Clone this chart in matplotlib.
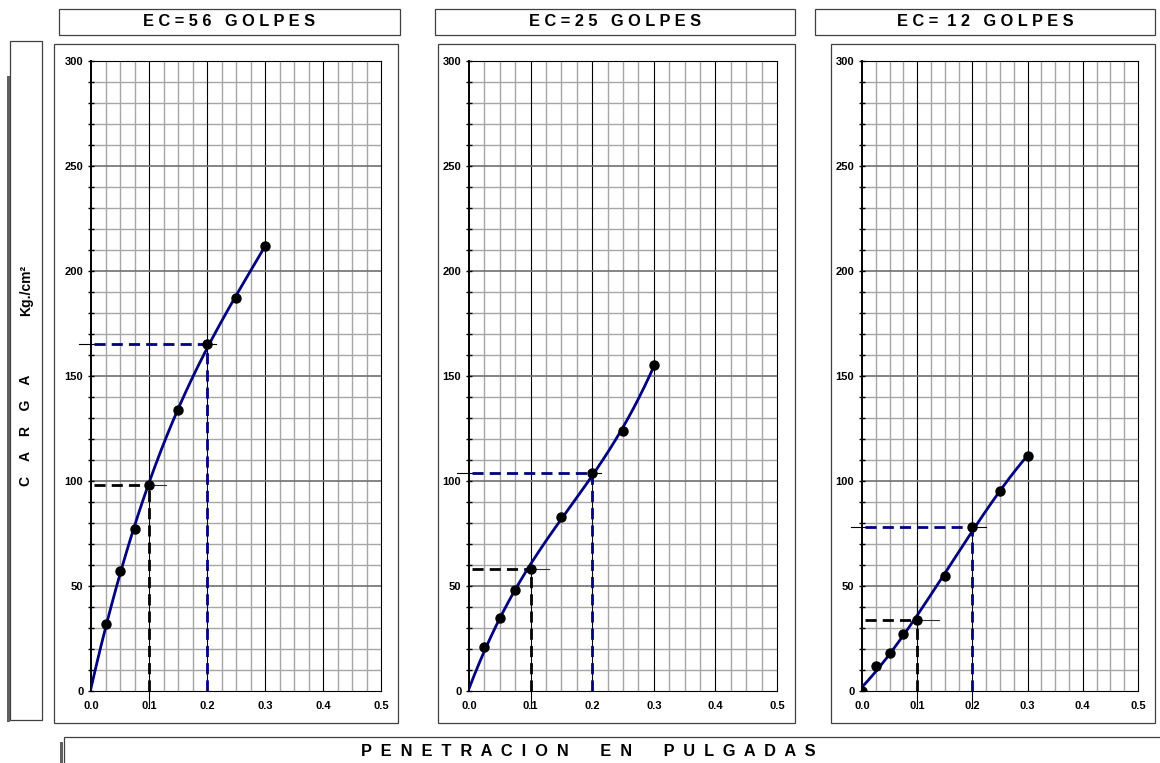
import numpy as np
import matplotlib.pyplot as plt
from matplotlib.patches import Rectangle

plt.rcParams['font.family'] = ['Liberation Sans', 'DejaVu Sans']

# datos de penetracion (pulgadas) y carga (kg/cm2)
pen = [0.0, 0.025, 0.05, 0.075, 0.1, 0.15, 0.2, 0.25, 0.3]
carga_56 = [0, 32, 57, 77, 98, 134, 165, 187, 212]
carga_25 = [0, 21, 35, 48, 58, 83, 104, 124, 155]
carga_12 = [0, 12, 18, 27, 34, 55, 78, 95, 112]
titulos = ['E C = 5 6   G O L P E S', 'E C = 2 5   G O L P E S', 'E C =  1 2   G O L P E S']
series = [carga_56, carga_25, carga_12]
marca_origen = [False, False, True]

W, H = 1160, 763
fig = plt.figure(figsize=(W / 100, H / 100), dpi=100)


def caja(x0, y0, x1, y1, lw=0.9, color='#404040'):
    r = Rectangle((x0 / W, 1 - y1 / H), (x1 - x0) / W, (y1 - y0) / H,
                  transform=fig.transFigure, fill=False, lw=lw, ec=color)
    fig.patches.append(r)


def eje(x0, y0, x1, y1):
    return fig.add_axes([x0 / W, 1 - y1 / H, (x1 - x0) / W, (y1 - y0) / H])


ejes_px = [(91, 381), (469, 777), (862, 1138)]
marcos = [(54, 398), (438, 795), (831, 1155)]
cajas_tit = [(59, 400), (435, 795), (815, 1155)]
navy = '#000080'
guion = (0, (4, 2.2))

for i in range(3):
    f0, f1 = marcos[i]
    caja(f0, 44, f1, 723)
    t0, t1 = cajas_tit[i]
    caja(t0, 9, t1, 35)
    fig.text((t0 + t1) / 2 / W, 1 - 22 / H, titulos[i], ha='center', va='center',
             fontsize=11.8, fontweight='bold')

    a0, a1 = ejes_px[i]
    ax = eje(a0, 61, a1, 691)
    ax.set_xlim(0, 0.5)
    ax.set_ylim(0, 300)

    # cuadricula
    for xv in np.arange(0.025, 0.5, 0.025):
        if abs(xv / 0.1 - round(xv / 0.1)) > 1e-6:
            ax.axvline(xv, color='#a6a6a6', lw=1.0, zorder=0)
    for xv in [0.1, 0.2, 0.3, 0.4]:
        ax.axvline(xv, color='black', lw=0.8, zorder=0.5)
    for yv in range(10, 300, 10):
        if yv % 50:
            ax.axhline(yv, color='#a6a6a6', lw=1.0, zorder=0)
    for yv in [50, 100, 150, 200, 250]:
        ax.axhline(yv, color='#707070', lw=1.2, zorder=0.5)

    for s in ax.spines.values():
        s.set_color('black')
        s.set_linewidth(0.8)
    ax.spines['left'].set_linewidth(1.4)

    ax.set_xticks([0.0, 0.1, 0.2, 0.3, 0.4, 0.5])
    ax.set_xticklabels(['0.0', '0.1', '0.2', '0.3', '0.4', '0.5'])
    ax.set_yticks(range(0, 301, 50))
    ax.set_yticks(range(0, 301, 10), minor=True)
    ax.tick_params(axis='x', length=0, pad=7, labelsize=8)
    ax.tick_params(axis='x', which='minor', length=0)
    ax.tick_params(axis='y', which='both', direction='inout', length=5, width=1, pad=3, labelsize=8)
    for lab in ax.get_xticklabels() + ax.get_yticklabels():
        lab.set_fontweight('bold')

    y = series[i]
    # curva de tendencia
    c = np.polyfit(pen, y, 3)
    xs = np.linspace(0, 0.3, 200)
    ax.plot(xs, np.polyval(c, xs), color=navy, lw=2, zorder=4)

    # puntos
    if marca_origen[i]:
        ax.plot(pen, y, 'o', color='black', ms=6.5, zorder=5)
    else:
        ax.plot(pen[1:], y[1:], 'o', color='black', ms=6.5, zorder=5)

    # lecturas a 0.1 y 0.2
    v1 = y[pen.index(0.1)]
    v2 = y[pen.index(0.2)]
    extra = 0.01 * (i == 2)
    ax.plot([-0.02, 0.005], [v2, v2], color='black', lw=0.8, zorder=3, clip_on=False)
    ax.plot([0.2, 0.215 + extra], [v2, v2], color='black', lw=0.8, zorder=3)
    ax.plot([0.1, 0.13 + extra], [v1, v1], color='#303030', lw=0.8, zorder=3)
    ax.plot([0.005, 0.2], [v2, v2], color=navy, lw=2, ls=guion, zorder=3.5)
    ax.plot([0.2, 0.2], [0, v2], color=navy, lw=2, ls=guion, zorder=3.5)
    ax.plot([0.005, 0.1], [v1, v1], color='black', lw=2, ls=guion, zorder=3.5)
    ax.plot([0.1, 0.1], [0, v1], color='black', lw=2, ls=guion, zorder=3.5)
    ax.plot([0.1, 0.1], [0, -8], color='black', lw=0.8, clip_on=False)
    if i == 2:
        ax.plot([0.2, 0.2], [0, -8], color='black', lw=0.8, clip_on=False)
        ax.plot([0.1, 0.1], [v1, v1 + 10], color='black', lw=0.8, zorder=3)
        ax.plot([0.2, 0.2], [v2, v2 + 5], color='black', lw=0.8, zorder=3)

# caja lateral (CARGA)
caja(10, 41, 42, 720)
fig.patches.append(Rectangle((7 / W, 1 - 722 / H), 2.5 / W, (722 - 76) / H,
                             transform=fig.transFigure, color='#606060', lw=0))
fig.text(26 / W, 1 - 430 / H, 'C    A    R    G    A', rotation=90, ha='center', va='center',
         fontsize=10, fontweight='bold')
fig.text(26 / W, 1 - 290 / H, 'Kg./cm²', rotation=90, ha='center', va='center',
         fontsize=10, fontweight='bold')

# caja inferior (PENETRACION)
caja(64, 737, 1162, 770)
fig.patches.append(Rectangle((60 / W, 0), 2.5 / W, (763 - 742) / H,
                             transform=fig.transFigure, color='#606060', lw=0))
fig.text(588 / W, 1 - 752 / H,
         'P  E  N  E  T  R  A  C  I  O  N       E  N       P  U  L  G  A  D  A  S',
         ha='center', va='center', fontsize=11.8, fontweight='bold')

fig.savefig('out.png', dpi=100)
